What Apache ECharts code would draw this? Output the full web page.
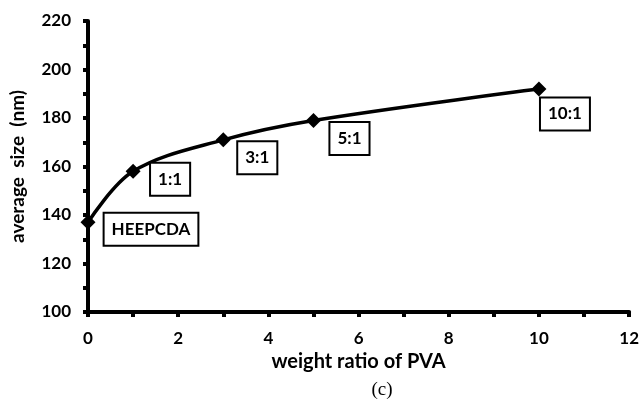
<!DOCTYPE html>
<html>
<head>
<meta charset="utf-8">
<script src="https://cdn.jsdelivr.net/npm/echarts@6/dist/echarts.min.js"></script>
<style>
body { margin: 0; background: #fff; }
#chart { width: 642px; height: 401px; }
</style>
</head>
<body>
<div id="chart"></div>
<script>
// data
const ratios = [0, 1, 3, 5, 10];
const sizes = [137, 158, 171, 179, 192];
const pointNames = ["HEEPCDA", "1:1", "3:1", "5:1", "10:1"];
// label box offsets from the marker (px)
const labelOffsets = [[63, 7], [37, 8], [34, 18], [36, 18], [26, 25]];

const FONT = "Lato";
const chart = echarts.init(document.getElementById("chart"));

const points = ratios.map(function (x, i) {
    return {
        value: [x, sizes[i]],
        name: pointNames[i],
        label: { offset: labelOffsets[i] }
    };
});

const tickStyle = { color: "#000", width: 4 };

chart.setOption({
    animation: false,
    backgroundColor: "#fff",
    grid: { left: 87, top: 21, right: 12, bottom: 89 },
    xAxis: {
        type: "value",
        min: 0, max: 12, interval: 2,
        name: "weight ratio of PVA",
        nameLocation: "middle",
        nameGap: 36,
        nameTextStyle: { color: "#000", fontFamily: FONT, fontWeight: "bold", fontSize: 20 },
        axisLine: { lineStyle: { color: "#000", width: 4 } },
        axisTick: { show: true, length: 5, lineStyle: tickStyle },
        minorTick: { show: true, splitNumber: 2, length: 5, lineStyle: tickStyle },
        axisLabel: { color: "#000", fontFamily: FONT, fontWeight: "bold", fontSize: 17, margin: 18 },
        splitLine: { show: false }
    },
    yAxis: {
        type: "value",
        min: 100, max: 220, interval: 20,
        name: "average  size  (nm)",
        nameLocation: "middle",
        nameGap: 61,
        nameTextStyle: { color: "#000", fontFamily: FONT, fontWeight: "bold", fontSize: 19 },
        axisLine: { show: true, lineStyle: { color: "#000", width: 4 } },
        axisTick: { show: true, length: 5, lineStyle: tickStyle },
        minorTick: { show: true, splitNumber: 2, length: 5, lineStyle: tickStyle },
        axisLabel: { color: "#000", fontFamily: FONT, fontWeight: "bold", fontSize: 17, margin: 17 },
        splitLine: { show: false }
    },
    graphic: [{
        type: "text",
        x: 382, y: 390,
        style: {
            text: "(c)", fill: "#000",
            font: "19px 'Liberation Serif'",
            align: "center", verticalAlign: "middle"
        }
    }],
    series: [{
        type: "line",
        data: points,
        smooth: 0.35,
        symbol: "diamond",
        symbolSize: 15,
        itemStyle: { color: "#000" },
        lineStyle: { color: "#000", width: 3.5 },
        label: {
            show: true,
            position: "inside",
            formatter: "{b}",
            color: "#000",
            fontFamily: FONT,
            fontWeight: "bold",
            fontSize: 17,
            lineHeight: 20,
            backgroundColor: "#fff",
            borderColor: "#000",
            borderWidth: 2,
            padding: [6, 7, 5, 7]
        }
    }]
});
</script>
</body>
</html>
